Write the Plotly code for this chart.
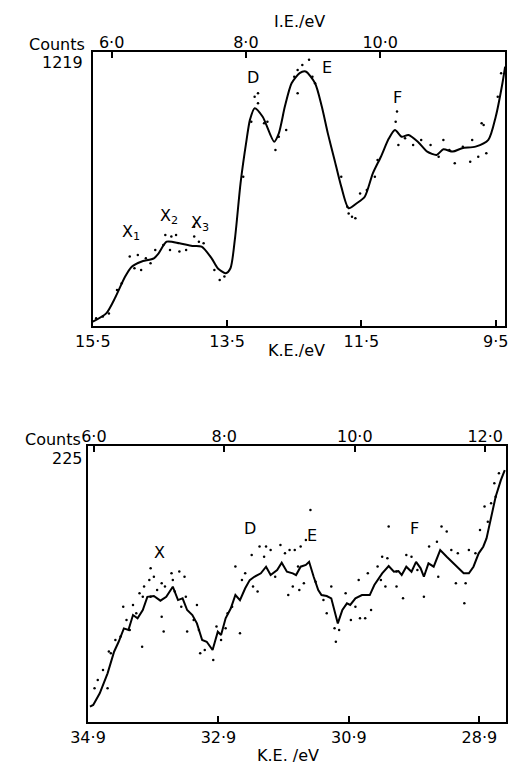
import plotly.graph_objects as go

W, H = 511, 765

# ---------------- Top panel (He I) ----------------
ke_top = [15.50, 15.30, 15.16, 15.02, 14.92, 14.78, 14.59, 14.52, 14.40, 14.21,
          14.02, 13.88, 13.73, 13.64, 13.52, 13.45, 13.38, 13.30, 13.21, 13.16,
          13.09, 12.97, 12.80, 12.73, 12.64, 12.54, 12.42, 12.33, 12.19, 12.09,
          12.00, 11.90, 11.80, 11.69, 11.57, 11.45, 11.33, 11.21, 11.09, 11.00,
          10.90, 10.80, 10.66, 10.52, 10.38, 10.28, 10.14, 10.00, 9.80, 9.61,
          9.50, 9.40, 9.36]
counts_top = [19, 56, 130, 219, 264, 286, 301, 323, 375, 368,
              356, 353, 301, 257, 235, 257, 397, 635, 828, 917,
              969, 931, 820, 857, 976, 1080, 1125, 1132, 1080, 976,
              857, 739, 620, 524, 546, 575, 679, 753, 835, 872,
              842, 850, 820, 776, 761, 786, 776, 791, 798, 828,
              931, 1080, 1154]

dot_ke_top = [14.95, 14.83, 14.71, 14.64, 14.57, 14.88, 14.78, 14.42, 14.33, 14.26,
              14.35, 14.21, 14.11, 13.99, 13.92, 13.85, 13.99, 13.69, 13.61, 13.54,
              13.09, 13.04, 13.14, 12.95, 12.78, 12.90, 12.73, 15.26, 15.35, 15.45,
              15.07, 15.14, 14.45, 12.62, 12.50, 12.45, 13.04, 13.26,
              12.38, 12.28, 12.45, 12.23, 12.19, 11.69, 11.64, 11.59, 11.71, 11.80,
              11.52, 11.42, 11.26, 11.30, 10.99, 10.97, 10.95, 10.85, 10.73, 10.61,
              10.47, 10.35, 10.28, 10.19, 10.11, 9.99, 9.88, 9.85, 9.76, 9.71,
              9.68, 9.64, 9.42, 9.47]
dot_counts_top = [309, 316, 301, 279, 338, 257, 249, 405, 398, 405,
                  338, 331, 338, 398, 375, 368, 442, 249, 205, 220,
                  1020, 991, 909, 902, 783, 909, 842, 56, 42, 34,
                  190, 160, 360, 872, 1109, 1139, 1035, 664,
                  1161, 1184, 1035, 1109, 1080, 501, 486, 479, 531, 664,
                  590, 605, 739, 664, 909, 954, 805, 835, 805, 828,
                  805, 753, 828, 783, 724, 798, 731, 828, 753, 902,
                  894, 768, 1124, 1020]

# ---------------- Bottom panel (He II) ----------------
ke_bot = [34.87, 34.82, 34.72, 34.60, 34.50, 34.43, 34.35, 34.28, 34.21, 34.14,
          34.06, 33.99, 33.89, 33.79, 33.70, 33.60, 33.52, 33.45, 33.38, 33.30,
          33.23, 33.15, 33.08, 32.99, 32.91, 32.86, 32.79, 32.71, 32.64, 32.57,
          32.49, 32.42, 32.35, 32.25, 32.17, 32.10, 32.00, 31.93, 31.85, 31.76,
          31.71, 31.64, 31.56, 31.51, 31.44, 31.37, 31.32, 31.24, 31.17, 31.07,
          31.00, 30.93, 30.88, 30.80, 30.70, 30.58, 30.51, 30.39, 30.29, 30.21,
          30.14, 30.09, 30.02, 29.94, 29.87, 29.80, 29.75, 29.68, 29.60, 29.50,
          29.40, 29.31, 29.23, 29.14, 29.06, 28.99, 28.91, 28.84, 28.79, 28.72,
          28.65, 28.57, 28.51]
counts_bot = [12.5, 13.9, 23.4, 39.7, 57.3, 65.4, 76.3, 75.0, 87.2, 84.5,
              91.3, 102.0, 102.7, 98.9, 102.0, 110.3, 99.4, 100.8, 91.3, 87.2,
              80.4, 66.8, 65.4, 58.7, 73.6, 70.9, 84.5, 92.7, 103.5, 99.4,
              109.0, 115.7, 118.4, 121.2, 126.6, 119.8, 123.9, 129.8, 122.5, 121.2,
              119.8, 126.6, 128.0, 130.6, 118.4, 107.6, 103.5, 102.7, 100.8, 80.4,
              91.3, 96.7, 95.4, 100.8, 103.5, 103.5, 111.7, 121.2, 127.1, 122.5,
              123.1, 119.8, 126.6, 122.5, 130.6, 125.3, 118.4, 129.3, 126.6, 140.2,
              134.7, 129.8, 125.3, 121.2, 121.2, 126.6, 137.5, 142.9, 149.7, 167.3,
              183.6, 197.2, 205.4]

dot_ke_bot = [34.75, 34.80, 34.67, 34.58, 34.55, 34.60, 34.48, 34.40, 34.36, 34.31,
              34.26, 34.21, 34.16, 34.11, 34.06, 34.04, 33.96, 33.94, 33.89, 33.84,
              33.77, 33.72, 33.62, 33.60, 33.50, 33.42, 33.57, 33.47, 33.40, 33.23,
              33.38, 33.74, 34.07, 33.28, 33.20, 33.18, 33.11, 32.98, 32.86, 32.93,
              32.76, 32.69, 32.64, 32.54, 32.49, 32.39, 32.27, 32.17, 32.10, 31.95,
              31.88, 31.81, 32.30, 32.20, 32.03, 31.83, 32.57, 33.77, 33.94, 32.37,
              32.79,
              31.49, 31.73, 31.64, 31.56, 31.68, 31.76, 31.66, 31.59, 31.41, 31.29,
              31.24, 31.17, 31.12, 31.05, 31.10, 30.95, 30.87, 30.80, 30.73, 30.65,
              30.75, 30.61, 30.56, 30.46, 30.39, 30.29, 30.31, 30.34, 30.17, 30.07,
              30.02, 29.94, 29.85, 29.75, 29.67, 29.55, 29.48, 29.40, 29.33, 29.26,
              29.23, 29.13, 29.11, 29.06, 28.96, 28.89, 28.82, 28.77, 28.72, 28.67,
              28.60, 28.65, 30.41, 30.17, 29.53]
dot_counts_bot = [34.3, 27.5, 42.4, 57.4, 56.0, 27.5, 66.9, 69.6, 94.0, 83.2,
                  75.0, 95.4, 88.6, 104.9, 102.2, 110.4, 115.8, 125.3, 118.5, 107.6,
                  113.1, 110.4, 121.2, 115.8, 122.6, 118.5, 106.3, 94.0, 102.2, 95.4,
                  73.7, 73.7, 61.4, 83.2, 75.0, 56.0, 58.7, 50.6, 66.9, 77.8,
                  88.6, 94.0, 126.7, 115.8, 121.2, 136.2, 143.0, 143.0, 140.2, 144.3,
                  137.5, 140.2, 106.3, 134.8, 118.5, 103.6, 72.3, 85.9, 102.2, 110.4,
                  76.4,
                  172.8, 140.2, 143.0, 148.4, 126.7, 110.4, 107.6, 113.1, 114.4, 99.5,
                  88.6, 110.4, 76.4, 75.0, 65.5, 104.9, 83.2, 94.0, 84.5, 84.5,
                  115.8, 121.2, 91.3, 126.7, 134.8, 159.3, 133.4, 110.4, 110.4, 100.8,
                  136.2, 134.8, 123.9, 102.2, 143.0, 147.0, 159.3, 155.2, 140.2, 113.1,
                  137.5, 96.8, 113.1, 140.2, 137.5, 156.5, 175.6, 163.3, 178.3, 194.6,
                  202.7, 183.7, 115.8, 122.6, 118.5]

# photon energies linking K.E. and I.E. scales
HEI, HEII = 21.22, 40.81
ke_top_range = [15.5, 9.36]
ke_bot_range = [34.9, 28.49]
ymax_top, ymax_bot = 1219, 225

ke_top_ticks = [15.5, 13.5, 11.5, 9.5]
ke_top_text = ["15·5", "13·5", "11·5", "9·5"]
ie_top_ticks = [6.0, 8.0, 10.0]
ie_top_text = ["6·0", "8·0", "10·0"]
ke_bot_ticks = [34.9, 32.9, 30.9, 28.9]
ke_bot_text = ["34·9", "32·9", "30·9", "28·9"]
ie_bot_ticks = [6.0, 8.0, 10.0, 12.0]
ie_bot_text = ["6·0", "8·0", "10·0", "12·0"]

FONT = "DejaVu Sans"

fig = go.Figure()

# top panel
fig.add_trace(go.Scatter(x=dot_ke_top, y=dot_counts_top, mode="markers",
                         marker=dict(color="black", size=2.5), xaxis="x", yaxis="y",
                         showlegend=False, hoverinfo="skip"))
fig.add_trace(go.Scatter(x=ke_top, y=counts_top, mode="lines",
                         line=dict(color="black", width=2, shape="spline", smoothing=0.7),
                         xaxis="x", yaxis="y", showlegend=False))
fig.add_trace(go.Scatter(x=[HEI - k for k in ke_top], y=counts_top, mode="lines",
                         opacity=0, xaxis="x2", yaxis="y", showlegend=False, hoverinfo="skip"))

# bottom panel
fig.add_trace(go.Scatter(x=dot_ke_bot, y=dot_counts_bot, mode="markers",
                         marker=dict(color="black", size=2.5), xaxis="x3", yaxis="y2",
                         showlegend=False, hoverinfo="skip"))
fig.add_trace(go.Scatter(x=ke_bot, y=counts_bot, mode="lines",
                         line=dict(color="black", width=2),
                         xaxis="x3", yaxis="y2", showlegend=False))
fig.add_trace(go.Scatter(x=[HEII - k for k in ke_bot], y=counts_bot, mode="lines",
                         opacity=0, xaxis="x4", yaxis="y2", showlegend=False, hoverinfo="skip"))

def px(v):
    return v / W

def py(v):
    return 1 - v / H

dom_top_x = [px(78), px(508)]
dom_top_y = [py(326), py(52)]
dom_bot_x = [px(73), px(509)]
dom_bot_y = [py(722), py(446)]

ax_common = dict(showgrid=False, zeroline=False, linecolor="black", linewidth=1.6,
                 tickcolor="black", tickwidth=1.5, ticklen=6, ticks="inside",
                 tickfont=dict(family=FONT, size=16, color="black"))

fig.update_layout(
    width=W, height=H,
    margin=dict(l=0, r=0, t=0, b=0),
    paper_bgcolor="white", plot_bgcolor="white",
    font=dict(family=FONT, size=16, color="black"),
    xaxis=dict(domain=dom_top_x, anchor="y", range=ke_top_range, tickmode="array",
               tickvals=ke_top_ticks, ticktext=ke_top_text, showline=True, mirror=True,
               **ax_common),
    xaxis2=dict(domain=dom_top_x, anchor="y", overlaying="x", side="top",
                range=[HEI - ke_top_range[0], HEI - ke_top_range[1]], tickmode="array",
                tickvals=ie_top_ticks, ticktext=ie_top_text, showline=False, **ax_common),
    yaxis=dict(domain=dom_top_y, anchor="x", range=[0, ymax_top], showline=True, mirror=True,
               showticklabels=False, showgrid=False, zeroline=False, ticks="",
               linecolor="black", linewidth=1.6),
    xaxis3=dict(domain=dom_bot_x, anchor="y2", range=ke_bot_range, tickmode="array",
                tickvals=ke_bot_ticks, ticktext=ke_bot_text, showline=True, mirror=True,
                **ax_common),
    xaxis4=dict(domain=dom_bot_x, anchor="y2", overlaying="x3", side="top",
                range=[HEII - ke_bot_range[0], HEII - ke_bot_range[1]], tickmode="array",
                tickvals=ie_bot_ticks, ticktext=ie_bot_text, showline=False, **ax_common),
    yaxis2=dict(domain=dom_bot_y, anchor="x3", range=[0, ymax_bot], showline=True, mirror=True,
                showticklabels=False, showgrid=False, zeroline=False, ticks="",
                linecolor="black", linewidth=1.6),
)

anns = []
def paper_text(t, x, y, xa="center", size=16):
    anns.append(dict(text=t, x=px(x), y=py(y), xref="paper", yref="paper",
                     xanchor=xa, yanchor="middle", showarrow=False,
                     font=dict(family=FONT, size=size, color="black")))

paper_text("Counts", 72, 44, "right")
paper_text(str(ymax_top), 70, 62, "right")
paper_text("I.E./eV", 294, 21)
paper_text("K.E./eV", 290, 351)
paper_text("Counts", 68, 440, "right")
paper_text(str(ymax_bot), 70, 458, "right")
paper_text("K.E. /eV", 282, 755)

peak_top = [("X<sub>1</sub>", 14.93, 418), ("X<sub>2</sub>", 14.36, 485),
            ("X<sub>3</sub>", 13.90, 458), ("D", 13.11, 1104), ("E", 12.01, 1148),
            ("F", 10.97, 1015)]
peak_bot = [("X", 33.80, 138), ("D", 32.41, 158), ("E", 31.47, 152), ("F", 29.90, 158)]
for t, xk, yc in peak_top:
    anns.append(dict(text=t, x=xk, y=yc, xref="x", yref="y", showarrow=False,
                     font=dict(family=FONT, size=16, color="black")))
for t, xk, yc in peak_bot:
    anns.append(dict(text=t, x=xk, y=yc, xref="x3", yref="y2", showarrow=False,
                     font=dict(family=FONT, size=16, color="black")))

fig.update_layout(annotations=anns)
fig.write_html("out.html")
